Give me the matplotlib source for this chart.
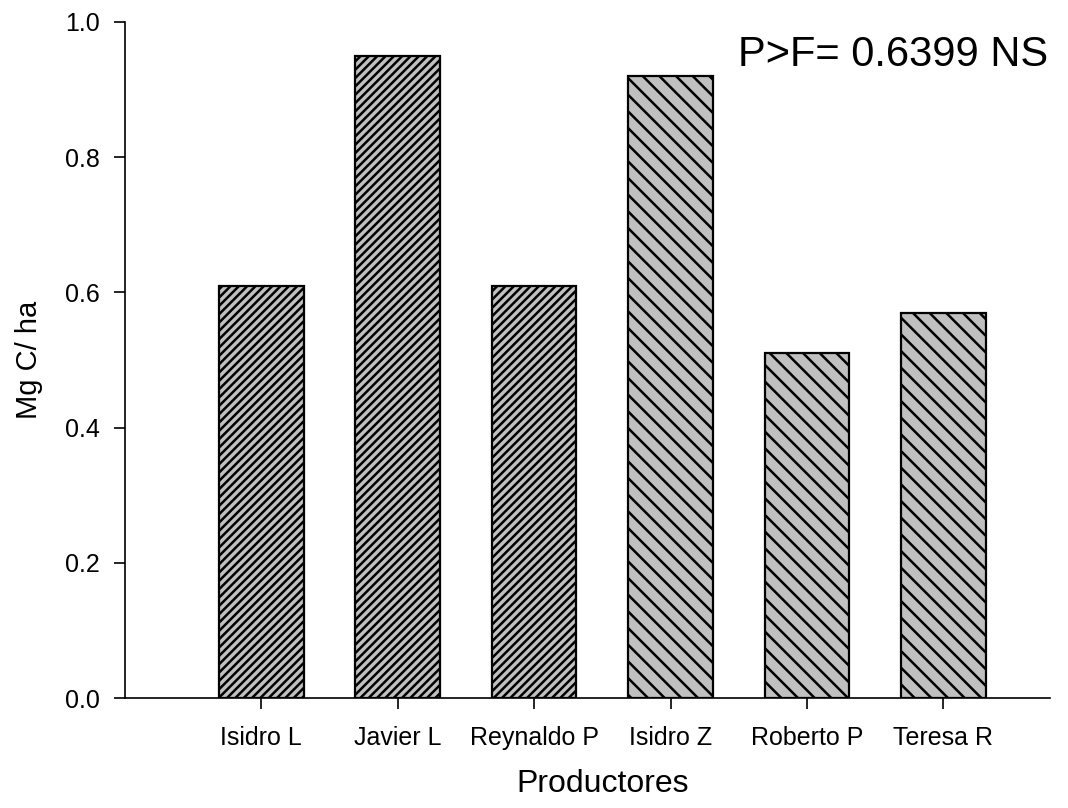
import matplotlib.pyplot as plt

# Datos del gráfico
productores = ['Isidro L', 'Javier L', 'Reynaldo P', 'Isidro Z', 'Roberto P', 'Teresa R']
carbono = [0.61, 0.95, 0.61, 0.92, 0.51, 0.57]
tramas = ['////', '////', '////', '\\\\', '\\\\', '\\\\']

plt.rcParams['font.family'] = ['Liberation Sans', 'DejaVu Sans']
plt.rcParams['hatch.linewidth'] = 1.8

fig = plt.figure(figsize=(10.68, 8.08), dpi=100)
ax = fig.add_axes([0.117, 0.136, 0.866, 0.837])

x = list(range(len(productores)))
for xi, val, h in zip(x, carbono, tramas):
    ax.bar(xi, val, width=0.62, color='#c0c0c0', edgecolor='black',
           linewidth=1.6, hatch=h)

ax.set_xlim(-1, 5.78)
ax.set_ylim(0, 1.0)
ax.set_yticks([0.0, 0.2, 0.4, 0.6, 0.8, 1.0])
ax.set_yticklabels(['0.0', '0.2', '0.4', '0.6', '0.8', '1.0'], fontsize=18)
ax.set_xticks(x)
ax.set_xticklabels(productores, fontsize=18)
ax.tick_params(direction='out', length=8, width=1.2, pad=10)
ax.tick_params(axis='x', pad=12)

ax.spines['top'].set_visible(False)
ax.spines['right'].set_visible(False)
ax.spines['left'].set_linewidth(1.2)
ax.spines['bottom'].set_linewidth(1.2)

ax.set_ylabel('Mg C/ ha', fontsize=21, labelpad=16)
ax.set_xlabel('Productores', fontsize=23, labelpad=14)
ax.xaxis.set_label_coords(0.517, -0.105)

ax.text(0.998, 0.951, 'P>F= 0.6399 NS', transform=ax.transAxes,
        ha='right', va='center', fontsize=30)

plt.savefig('out.png', dpi=100)
